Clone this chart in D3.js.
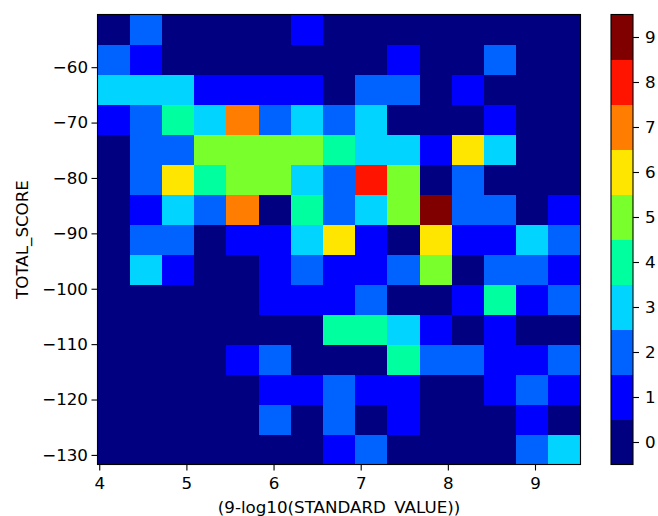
<!DOCTYPE html>
<html>
<head>
<meta charset="utf-8">
<script src="https://cdn.jsdelivr.net/npm/d3@7"></script>
<style>
  body { margin: 0; background: #fff; }
  svg { display: block; font-family: "DejaVu Sans", sans-serif; }
</style>
</head>
<body>
<svg id="chart" width="658" height="516"></svg>
<script>
// histogram bin range (data units)
const xRange = [3.98, 9.522];
const yRange = [-131.73, -50.49];

// counts per cell, top row first (highest TOTAL_SCORE), left to right
const counts = [
  [0, 2, 0, 0, 0, 0, 1, 0, 0, 0, 0, 0, 0, 0, 0],
  [2, 1, 0, 0, 0, 0, 0, 0, 0, 1, 0, 0, 2, 0, 0],
  [3, 3, 3, 1, 1, 1, 1, 0, 2, 2, 0, 1, 0, 0, 0],
  [1, 2, 4, 3, 7, 2, 3, 2, 3, 0, 0, 0, 1, 0, 0],
  [0, 2, 2, 5, 5, 5, 5, 4, 3, 3, 1, 6, 3, 0, 0],
  [0, 2, 6, 4, 5, 5, 3, 2, 8, 5, 0, 2, 0, 0, 0],
  [0, 1, 3, 2, 7, 0, 4, 2, 3, 5, 9, 2, 2, 0, 1],
  [0, 2, 2, 0, 1, 1, 3, 6, 1, 0, 6, 1, 1, 3, 2],
  [0, 3, 1, 0, 0, 1, 2, 1, 1, 2, 5, 0, 2, 2, 1],
  [0, 0, 0, 0, 0, 1, 1, 1, 2, 0, 0, 1, 4, 1, 2],
  [0, 0, 0, 0, 0, 0, 0, 4, 4, 3, 1, 0, 1, 0, 0],
  [0, 0, 0, 0, 1, 2, 0, 0, 0, 4, 2, 2, 1, 1, 2],
  [0, 0, 0, 0, 0, 1, 1, 2, 1, 1, 0, 0, 1, 2, 1],
  [0, 0, 0, 0, 0, 2, 0, 2, 0, 1, 0, 0, 0, 1, 0],
  [0, 0, 0, 0, 0, 0, 0, 1, 2, 0, 0, 0, 0, 2, 3]
];

const xTicks = [4, 5, 6, 7, 8, 9];
const yTicks = [-60, -70, -80, -90, -100, -110, -120, -130];
const levels = [0, 1, 2, 3, 4, 5, 6, 7, 8, 9];

const xLabel = "(9-log10(STANDARD_VALUE))";
const yLabel = "TOTAL_SCORE";

const plot = { left: 97.5, top: 14.5, width: 483, height: 450 };
const bar = { left: 611, width: 22 };
const fontSize = "16.7px";

// jet-like palette, one colour per integer count
const palette = [
  "#000080", "#0000ff", "#0063ff", "#00d4ff", "#00ff9e",
  "#78ff2c", "#ffe600", "#ff7d00", "#ff1400", "#800000"
];
const color = (v) => palette[v];

const svg = d3.select("#chart");

const x = d3.scaleLinear().domain(xRange).range([plot.left, plot.left + plot.width]);
const y = d3.scaleLinear().domain(yRange).range([plot.top + plot.height, plot.top]);

const nx = counts[0].length;
const ny = counts.length;
const dx = (xRange[1] - xRange[0]) / nx;
const dy = (yRange[1] - yRange[0]) / ny;

const cells = [];
counts.forEach((row, j) => {
  row.forEach((v, i) => {
    cells.push({
      x0: xRange[0] + i * dx,
      x1: xRange[0] + (i + 1) * dx,
      y1: yRange[1] - j * dy,
      y0: yRange[1] - (j + 1) * dy,
      v: v
    });
  });
});

svg.append("g")
  .attr("shape-rendering", "crispEdges")
  .selectAll("rect")
  .data(cells)
  .join("rect")
  .attr("x", (d) => x(d.x0))
  .attr("y", (d) => y(d.y1))
  .attr("width", (d) => x(d.x1) - x(d.x0) + 0.5)
  .attr("height", (d) => y(d.y0) - y(d.y1) + 0.5)
  .attr("fill", (d) => color(d.v));

// frame
svg.append("rect")
  .attr("x", plot.left).attr("y", plot.top)
  .attr("width", plot.width).attr("height", plot.height)
  .attr("fill", "none").attr("stroke", "#000").attr("stroke-width", 1.1);

const fmt = (d) => String(d).replace("-", "\u2212");

const xAxis = svg.append("g")
  .attr("transform", `translate(0,${plot.top + plot.height})`)
  .call(d3.axisBottom(x).tickValues(xTicks).tickFormat(fmt).tickSize(6).tickPadding(7));

const yAxis = svg.append("g")
  .attr("transform", `translate(${plot.left},0)`)
  .call(d3.axisLeft(y).tickValues(yTicks).tickFormat(fmt).tickSize(6).tickPadding(3.5));

[xAxis, yAxis].forEach((a) => {
  a.select(".domain").remove();
  a.selectAll("line").attr("stroke", "#000").attr("stroke-width", 1.1);
  a.selectAll("text").attr("fill", "#000").style("font-size", fontSize).style("font-family", "DejaVu Sans");
});

svg.append("text")
  .attr("x", plot.left + plot.width / 2)
  .attr("y", 513)
  .attr("text-anchor", "middle")
  .style("font-size", fontSize)
  .text(xLabel);

svg.append("text")
  .attr("transform", `translate(28,${plot.top + plot.height / 2}) rotate(-90)`)
  .attr("text-anchor", "middle")
  .style("font-size", fontSize)
  .text(yLabel);

// colorbar
const c = d3.scaleLinear().domain([-0.5, 9.5]).range([plot.top + plot.height, plot.top]);

svg.append("g")
  .attr("shape-rendering", "crispEdges")
  .selectAll("rect")
  .data(levels)
  .join("rect")
  .attr("x", bar.left)
  .attr("y", (d) => c(d + 0.5))
  .attr("width", bar.width)
  .attr("height", (d) => c(d - 0.5) - c(d + 0.5) + 0.5)
  .attr("fill", (d) => color(d));

svg.append("rect")
  .attr("x", bar.left).attr("y", plot.top)
  .attr("width", bar.width).attr("height", plot.height)
  .attr("fill", "none").attr("stroke", "#000").attr("stroke-width", 1.1);

const cAxis = svg.append("g")
  .attr("transform", `translate(${bar.left + bar.width},0)`)
  .call(d3.axisRight(c).tickValues(levels).tickFormat(d3.format("d")).tickSize(6).tickPadding(6));
cAxis.select(".domain").remove();
cAxis.selectAll("line").attr("stroke", "#000").attr("stroke-width", 1.1);
cAxis.selectAll("text").attr("fill", "#000").style("font-size", fontSize).style("font-family", "DejaVu Sans");
</script>
</body>
</html>
